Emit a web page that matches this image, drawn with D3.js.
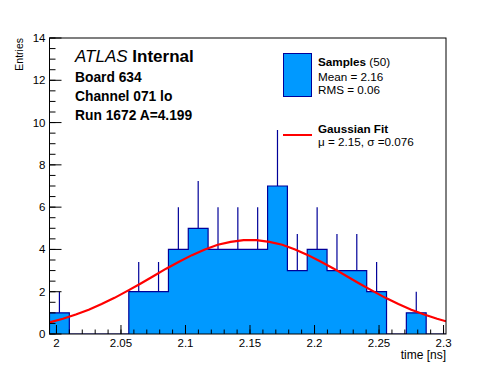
<!DOCTYPE html>
<html>
<head>
<meta charset="utf-8">
<script src="https://cdn.jsdelivr.net/npm/d3@7"></script>
<style>
body { margin:0; background:#fff; }
text { font-family: "Liberation Sans", Arial, Helvetica, sans-serif; fill:#000; }
</style>
</head>
<body>
<div id="chart"></div>
<script>

// histogram: 20 bins between xMin and xMax
var xMin = 1.9946, xMax = 2.3019;
var binCounts = [1, 0, 0, 0, 2, 2, 4, 5, 4, 4, 4, 7, 3, 4, 3, 3, 2, 0, 1, 0];
var binErrors = [1, 0, 0, 0, 1.41, 1.41, 2, 2.24, 2, 2, 2, 2.65, 1.73, 2, 1.73, 1.73, 1.41, 0, 1, 0];

// gaussian fit curve
var fitX = [1.9946, 2.005, 2.015, 2.025, 2.035, 2.045, 2.055, 2.065, 2.075, 2.085, 2.095,
            2.105, 2.115, 2.125, 2.135, 2.145, 2.155, 2.165, 2.175, 2.185, 2.195,
            2.205, 2.215, 2.225, 2.235, 2.245, 2.255, 2.265, 2.275, 2.285, 2.295, 2.3019];
var fitY = [0.55, 0.72, 0.92, 1.15, 1.42, 1.71, 2.04, 2.38, 2.73, 3.09, 3.42,
            3.73, 4.00, 4.22, 4.36, 4.44, 4.44, 4.36, 4.22, 4.00, 3.73,
            3.42, 3.09, 2.73, 2.38, 2.04, 1.71, 1.42, 1.15, 0.92, 0.72, 0.60];

var xTicks = [2, 2.05, 2.1, 2.15, 2.2, 2.25, 2.3];
var yTicks = [0, 2, 4, 6, 8, 10, 12, 14];

var infoLines = ["Board 634", "Channel 071 lo", "Run 1672 A=4.199"];

var W = 496, H = 372;
var margin = {top:38, right:50, bottom:38, left:49.5};
var fillCol = "#0099ff", lineCol = "#000099";

var svg = d3.select("#chart").append("svg")
    .attr("width", W).attr("height", H);
svg.append("rect").attr("width", W).attr("height", H).attr("fill", "#fff");

var xScale = d3.scaleLinear().domain([xMin, xMax]).range([margin.left, W - margin.right]);
var yScale = d3.scaleLinear().domain([0, 14]).range([H - margin.bottom, margin.top]);

var binW = (xMax - xMin) / binCounts.length;
var bins = binCounts.map(function(c, i) {
  return {x0: xMin + i * binW, x1: xMin + (i + 1) * binW, n: c, err: binErrors[i]};
});

svg.append("clipPath").attr("id", "plotclip").append("rect")
   .attr("x", xScale(xMin)).attr("y", yScale(14))
   .attr("width", xScale(xMax) - xScale(xMin)).attr("height", yScale(0) - yScale(14));

var plot = svg.append("g").attr("clip-path", "url(#plotclip)");

// step outline points
var stepPts = [[xScale(xMin), yScale(0)]];
bins.forEach(function(d) {
  stepPts.push([xScale(d.x0), yScale(d.n)]);
  stepPts.push([xScale(d.x1), yScale(d.n)]);
});
stepPts.push([xScale(xMax), yScale(0)]);

// filled histogram as one shape, no seams between bins
plot.append("path")
  .attr("d", d3.line()(stepPts) + "Z")
  .attr("fill", fillCol).attr("stroke", "none");

plot.append("path")
  .attr("d", d3.line()(stepPts))
  .attr("fill", "none").attr("stroke", lineCol).attr("stroke-width", 1.2);

// error bars (upper half, lower half hidden by fill)
plot.selectAll(".err")
  .data(bins.filter(function(d) { return d.n > 0; }))
  .enter().append("line")
  .attr("class", "err")
  .attr("x1", function(d) { return xScale((d.x0 + d.x1) / 2); })
  .attr("x2", function(d) { return xScale((d.x0 + d.x1) / 2); })
  .attr("y1", function(d) { return yScale(d.n); })
  .attr("y2", function(d) { return yScale(d.n + d.err); })
  .attr("stroke", lineCol).attr("stroke-width", 1.2);

// fit curve
var fitLine = d3.line()
  .x(function(d, i) { return xScale(fitX[i]); })
  .y(function(d) { return yScale(d); });
plot.append("path")
  .attr("d", fitLine(fitY))
  .attr("fill", "none").attr("stroke", "#ff0000").attr("stroke-width", 2.2);

// frame
svg.append("rect")
  .attr("x", xScale(xMin)).attr("y", yScale(14))
  .attr("width", xScale(xMax) - xScale(xMin)).attr("height", yScale(0) - yScale(14))
  .attr("fill", "none").attr("stroke", "#000").attr("stroke-width", 1);

// x axis, ticks pointing up into the frame
var xMinor = d3.range(2.0, 2.3001, 0.01).filter(function(v) { return v <= xMax; });
var xAxis = svg.append("g").attr("class", "x axis");
xAxis.selectAll(".minor").data(xMinor).enter().append("line")
  .attr("x1", function(d) { return xScale(d); }).attr("x2", function(d) { return xScale(d); })
  .attr("y1", yScale(0)).attr("y2", yScale(0) - 4.5)
  .attr("stroke", "#000");
xAxis.selectAll(".major").data(xTicks).enter().append("line")
  .attr("x1", function(d) { return xScale(d); }).attr("x2", function(d) { return xScale(d); })
  .attr("y1", yScale(0)).attr("y2", yScale(0) - 9)
  .attr("stroke", "#000");
xAxis.selectAll("text").data(xTicks).enter().append("text")
  .attr("x", function(d) { return xScale(d); })
  .attr("y", yScale(0) + 12.5)
  .attr("text-anchor", "middle")
  .style("font-size", "11.5px")
  .text(function(d) { return d3.format("")(d); });

// y axis, ticks pointing right
var yMinor = d3.range(0, 14.001, 0.5);
var yAxis = svg.append("g").attr("class", "y axis");
yAxis.selectAll(".minor").data(yMinor).enter().append("line")
  .attr("x1", xScale(xMin)).attr("x2", xScale(xMin) + 6)
  .attr("y1", function(d) { return yScale(d); }).attr("y2", function(d) { return yScale(d); })
  .attr("stroke", "#000");
yAxis.selectAll(".major").data(yTicks).enter().append("line")
  .attr("x1", xScale(xMin)).attr("x2", xScale(xMin) + 12)
  .attr("y1", function(d) { return yScale(d); }).attr("y2", function(d) { return yScale(d); })
  .attr("stroke", "#000");
yAxis.selectAll("text").data(yTicks).enter().append("text")
  .attr("x", xScale(xMin) - 4)
  .attr("y", function(d) { return yScale(d) + 4; })
  .attr("text-anchor", "end")
  .style("font-size", "11.5px")
  .text(function(d) { return d; });

// axis titles
svg.append("text")
  .attr("transform", "translate(23," + yScale(14) + ") rotate(-90)")
  .attr("text-anchor", "end")
  .style("font-size", "10.5px")
  .text("Entries");
svg.append("text")
  .attr("x", xScale(xMax)).attr("y", 359)
  .attr("text-anchor", "end")
  .style("font-size", "12px")
  .text("time [ns]");

// ATLAS label block
var atlas = svg.append("text").attr("x", 75).attr("y", 62).style("font-size", "17px");
atlas.append("tspan").style("font-style", "italic").text("ATLAS ");
atlas.append("tspan").style("font-weight", "bold").text("Internal");
svg.selectAll(".info").data(infoLines).enter().append("text")
  .attr("class", "info")
  .attr("x", 75)
  .attr("y", function(d, i) { return 82 + i * 19; })
  .style("font-size", "13.8px").style("font-weight", "bold")
  .text(function(d) { return d; });

// legend
var leg = svg.append("g").attr("class", "legend").style("font-size", "11.7px");
leg.append("rect").attr("x", 283.5).attr("y", 53.5).attr("width", 28).attr("height", 43)
  .attr("fill", fillCol).attr("stroke", lineCol).attr("stroke-width", 1);
var t1 = leg.append("text").attr("x", 318).attr("y", 66);
t1.append("tspan").style("font-weight", "bold").text("Samples");
t1.append("tspan").text(" (50)");
leg.append("text").attr("x", 318).attr("y", 81).text("Mean = 2.16");
leg.append("text").attr("x", 318).attr("y", 93.5).text("RMS = 0.06");
leg.append("line").attr("x1", 283).attr("x2", 312).attr("y1", 135).attr("y2", 135)
  .attr("stroke", "#ff0000").attr("stroke-width", 2);
leg.append("text").attr("x", 318).attr("y", 132.5).style("font-weight", "bold").text("Gaussian Fit");
leg.append("text").attr("x", 318).attr("y", 145.5).text("\u03bc = 2.15, \u03c3 =0.076");

</script>
</body>
</html>
